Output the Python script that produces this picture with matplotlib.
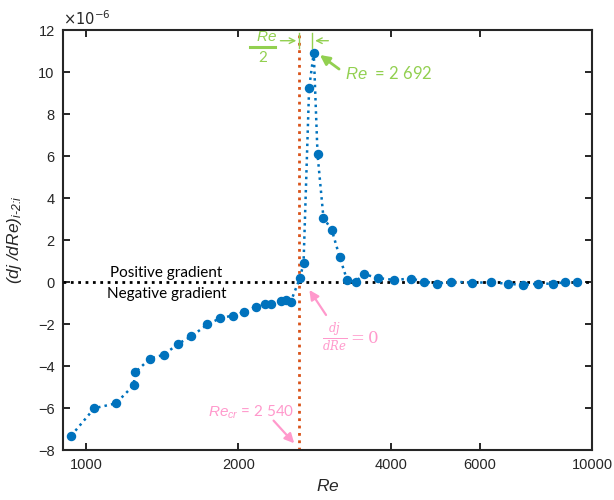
import numpy as np
import matplotlib
matplotlib.use('Agg')
import matplotlib.pyplot as plt
from matplotlib.ticker import FixedLocator, FixedFormatter, NullLocator

plt.rcParams['font.family'] = ['Liberation Sans', 'DejaVu Sans']
plt.rcParams['mathtext.fontset'] = 'custom'
plt.rcParams['mathtext.rm'] = 'Liberation Sans:italic'
plt.rcParams['mathtext.it'] = 'Liberation Sans:italic'

# Reynolds number and gradient (units of 1e-6)
re = [934, 1038, 1145, 1241, 1250, 1337, 1425, 1521, 1614, 1737, 1842, 1949,
      2052, 2167, 2255, 2322, 2425, 2488, 2535, 2646, 2690, 2759, 2818, 2867,
      2945, 3059, 3171, 3281, 3409, 3546, 3775, 4054, 4382, 4665, 4947, 5270,
      5784, 6307, 6810, 7289, 7808, 8361, 8838, 9339]
grad = [-7.32, -6.01, -5.78, -4.92, -4.30, -3.65, -3.46, -2.94, -2.59, -2.02,
        -1.72, -1.60, -1.43, -1.17, -1.03, -1.03, -0.90, -0.87, -0.97, 0.19,
        0.89, 9.22, 10.92, 6.08, 3.06, 2.48, 1.19, 0.08, 0.02, 0.37, 0.19,
        0.10, 0.16, 0.02, -0.08, 0.02, -0.03, -0.02, -0.08, -0.14, -0.08,
        -0.08, -0.02, -0.02]

re_line = 2636      # where the critical Re line sits on the axis
re_peak = 2800
x_ticks = [1000, 2000, 4000, 6000, 10000]
y_ticks = [-8, -6, -4, -2, 0, 2, 4, 6, 8, 10, 12]

blue = '#0072bd'
red = '#d95319'
green = '#92d050'
pink = '#ff99cc'
dark = '#262626'
note_font = ['Lato', 'DejaVu Sans']

fig = plt.figure(figsize=(6.14, 5.0), dpi=100)
ax = fig.add_axes([63 / 614, 50 / 500, 529 / 614, 420 / 500])

ax.axvline(re_line, color=red, linestyle=':', linewidth=2.0, zorder=2)
ax.axhline(0, color='black', linestyle=':', linewidth=2.0, zorder=3)
ax.plot(re, grad, linestyle=':', color=blue, linewidth=1.8,
        marker='o', markersize=5.8, zorder=4)

ax.set_xscale('log')
ax.set_xlim(900, 10000)
ax.set_ylim(-8, 12)
ax.xaxis.set_major_locator(FixedLocator(x_ticks))
ax.xaxis.set_major_formatter(FixedFormatter([str(t) for t in x_ticks]))
ax.xaxis.set_minor_locator(NullLocator())
ax.set_yticks(y_ticks)
ax.tick_params(direction='in', top=True, right=True, length=5, width=1.4,
               labelsize=10.5, colors=dark, pad=6)
for s in ax.spines.values():
    s.set_linewidth(1.5)
    s.set_color(dark)

ax.set_xlabel(r'$Re$', fontsize=12.5, labelpad=4, color=dark)
ax.set_ylabel(r'$(dj\ /dRe)_{\text{i-2:i}}$', fontsize=12.5, labelpad=10, color=dark)
ax.text(0.0, 1.004, r'$\times10^{-6}$', transform=ax.transAxes,
        math_fontfamily='dejavusans', fontsize=10.5, color=dark,
        ha='left', va='bottom')

# gradient side labels
ax.text(1438, 0.44, 'Positive gradient', fontsize=11, family=note_font,
        ha='center', va='center')
ax.text(1441, -0.57, 'Negative gradient', fontsize=11, family=note_font,
        ha='center', va='center')

# Re/2 dimension marker
ax.text(2277, 11.65, r'$Re$', color=green, fontsize=11, ha='center', va='center')
ax.plot([2104, 2360], [11.2, 11.2], color=green, linewidth=2.2)
ax.text(2236, 10.68, '2', color=green, fontsize=11, family=note_font,
        ha='center', va='center')
ax.annotate('', xy=(re_line, 11.49), xytext=(2391, 11.49),
            arrowprops=dict(arrowstyle='->', color=green, lw=1.0))
ax.annotate('', xy=(re_peak, 11.49), xytext=(3050, 11.49),
            arrowprops=dict(arrowstyle='->', color=green, lw=1.0))
ax.plot([re_line, re_line], [11.14, 11.86], color=green, linewidth=1.0)
ax.plot([re_peak, re_peak], [11.14, 11.86], color=green, linewidth=1.0)

# peak annotation
ax.annotate('', xy=(2898, 10.81), xytext=(3162, 10.14),
            arrowprops=dict(arrowstyle='-|>', color=green, lw=2.0,
                            mutation_scale=14, shrinkA=0, shrinkB=0))
ax.text(3248, 9.94, r'$Re$  = 2 692', color=green, fontsize=12,
        family=note_font, ha='left', va='center')

# zero crossing annotation
ax.annotate('', xy=(2763, -0.38), xytext=(2980, -1.57),
            arrowprops=dict(arrowstyle='-|>', color=pink, lw=1.6,
                            mutation_scale=14, shrinkA=0, shrinkB=0))
ax.text(3330, -2.67, r'$\frac{dj}{dRe} = 0$', color=pink, fontsize=12,
        math_fontfamily='dejavuserif', ha='center', va='center')

# critical Re annotation
ax.annotate('', xy=(2578, -7.68), xytext=(2347, -6.60),
            arrowprops=dict(arrowstyle='-|>', color=pink, lw=1.6,
                            mutation_scale=14, shrinkA=0, shrinkB=0))
ax.text(2576, -6.22, r'$Re_{cr}$ = 2 540', color=pink, fontsize=11,
        family=note_font, ha='right', va='center')

fig.savefig('out.png', dpi=100)
